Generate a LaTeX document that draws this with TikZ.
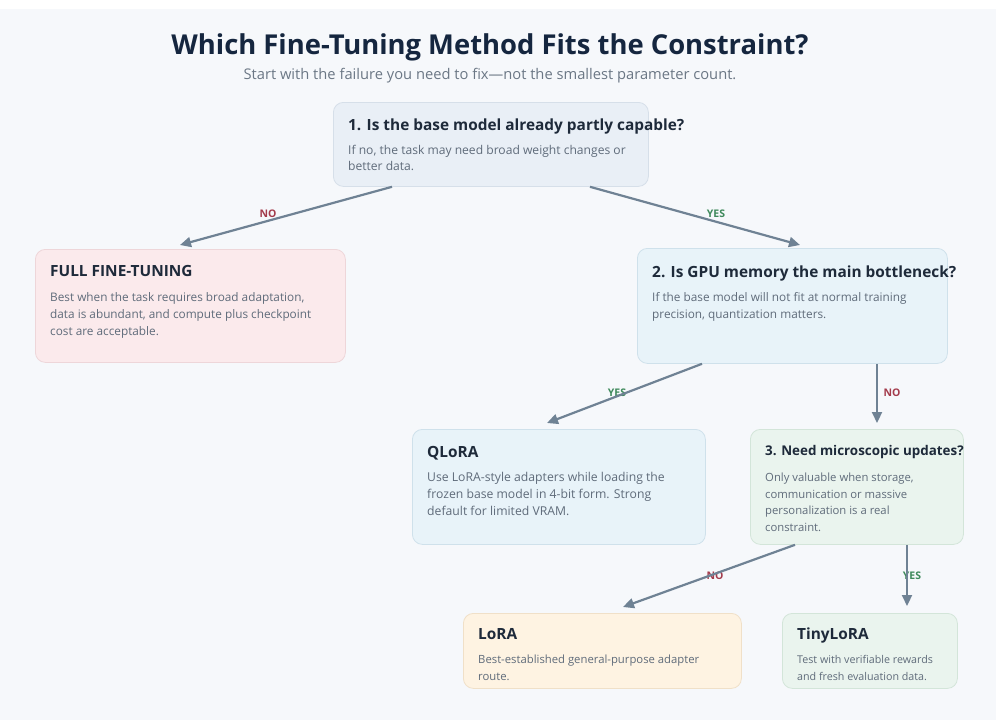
\documentclass[tikz,border=0pt]{standalone}
\usepackage{fontspec}
\setmainfont{Open Sans}
\usetikzlibrary{arrows.meta}
\definecolor{bg}{HTML}{F6F8FB}
\definecolor{ttlc}{HTML}{1E2A3A}
\definecolor{mainc}{HTML}{15263F}
\definecolor{subc}{HTML}{6B7785}
\definecolor{bodyc}{HTML}{5F6B7A}
\definecolor{arrc}{HTML}{6F8294}
\definecolor{noc}{HTML}{A33B4B}
\definecolor{yesc}{HTML}{3F8A5C}
\definecolor{qaf}{HTML}{E9EFF6}\definecolor{qad}{HTML}{D6DFE9}
\definecolor{pkf}{HTML}{FBEAEC}\definecolor{pkd}{HTML}{EED6D9}
\definecolor{blf}{HTML}{E8F3F9}\definecolor{bld}{HTML}{CFE1EB}
\definecolor{gnf}{HTML}{EAF4EE}\definecolor{gnd}{HTML}{D3E5D9}
\definecolor{orf}{HTML}{FEF3E2}\definecolor{ord}{HTML}{F0E0C8}
\begin{document}
\begin{tikzpicture}[x=1pt,y=-1pt,
  box/.style={draw, rounded corners=10pt, line width=0.8pt, anchor=north west, inner sep=0pt},
  ttl/.style={anchor=base west, inner sep=0pt, font=\bfseries\fontsize{15.4}{18}\selectfont, text=ttlc},
  body/.style={anchor=base west, inner sep=0pt, font=\fontsize{11.8}{17}\selectfont, text=bodyc},
  arr/.style={draw=arrc, line width=2.2pt, -{Triangle[length=11pt,width=10pt]}},
  nolbl/.style={inner sep=0pt, font=\bfseries\fontsize{10.5}{12}\selectfont, text=noc},
  yeslbl/.style={inner sep=0pt, font=\bfseries\fontsize{10.5}{12}\selectfont, text=yesc}]
\useasboundingbox (0,0) rectangle (996,720);
\fill[white] (0,0) rectangle (996,720);
\fill[bg] (0,9) rectangle (996,720);

% heading
\node[inner sep=0pt, font=\bfseries\fontsize{27.4}{31}\selectfont, text=mainc] (title) at (490,47) {Which Fine-Tuning Method Fits the Constraint?};
\node[inner sep=0pt, font=\fontsize{14.7}{17}\selectfont, text=subc] (subtitle) at (490,76) {Start with the failure you need to fix—not the smallest parameter count.};

% boxes
\node[box, fill=qaf, draw=qad, minimum width=315pt, minimum height=84pt] (q1) at (333,102) {};
\node[box, fill=pkf, draw=pkd, minimum width=310pt, minimum height=113pt] (full) at (35,249) {};
\node[box, fill=blf, draw=bld, minimum width=310pt, minimum height=115pt] (q2) at (637,248) {};
\node[box, fill=blf, draw=bld, minimum width=293pt, minimum height=115pt] (qlora) at (412,429) {};
\node[box, fill=gnf, draw=gnd, minimum width=213pt, minimum height=115pt] (q3) at (750,429) {};
\node[box, fill=orf, draw=ord, minimum width=278pt, minimum height=75pt] (lora) at (463,613) {};
\node[box, fill=gnf, draw=gnd, minimum width=175pt, minimum height=75pt] (tiny) at (782,613) {};

% texts
\node[ttl] (q1t) at (348,130) {1. Is the base model already partly capable?};
\node[body, font=\fontsize{12.1}{17}\selectfont] (q1b1) at (348,154) {If no, the task may need broad weight changes or};
\node[body, font=\fontsize{12.1}{17}\selectfont] (q1b2) at (348,170) {better data.};

\node[ttl] (fullt) at (50,276) {FULL FINE-TUNING};
\node[body] (fullb1) at (50,301) {Best when the task requires broad adaptation,};
\node[body] (fullb2) at (50,318) {data is abundant, and compute plus checkpoint};
\node[body] (fullb3) at (50,335) {cost are acceptable.};

\node[ttl] (q2t) at (652,277) {2. Is GPU memory the main bottleneck?};
\node[body] (q2b1) at (652,301) {If the base model will not fit at normal training};
\node[body] (q2b2) at (652,318) {precision, quantization matters.};

\node[ttl] (qlorat) at (427,457) {QLoRA};
\node[body, font=\fontsize{12.2}{17}\selectfont] (qlorab1) at (427,481) {Use LoRA-style adapters while loading the};
\node[body, font=\fontsize{12.2}{17}\selectfont] (qlorab2) at (427,498) {frozen base model in 4-bit form. Strong};
\node[body, font=\fontsize{12.2}{17}\selectfont] (qlorab3) at (427,515) {default for limited VRAM.};

\node[ttl, font=\bfseries\fontsize{13.4}{16}\selectfont] (q3t) at (765,455) {3. Need microscopic updates?};
\node[body, font=\fontsize{11.3}{16}\selectfont] (q3b1) at (765,481) {Only valuable when storage,};
\node[body, font=\fontsize{11.3}{16}\selectfont] (q3b2) at (765,498) {communication or massive};
\node[body, font=\fontsize{11.3}{16}\selectfont] (q3b3) at (765,514) {personalization is a real};
\node[body, font=\fontsize{11.3}{16}\selectfont] (q3b4) at (765,531) {constraint.};

\node[ttl] (lorat) at (478,639) {LoRA};
\node[body, font=\fontsize{11.3}{16}\selectfont] (lorab1) at (478,663) {Best-established general-purpose adapter};
\node[body, font=\fontsize{11.3}{16}\selectfont] (lorab2) at (478,680) {route.};

\node[ttl] (tinyt) at (797,639) {TinyLoRA};
\node[body, font=\fontsize{10.7}{16}\selectfont] (tinyb1) at (797,663) {Test with verifiable rewards};
\node[body, font=\fontsize{10.7}{16}\selectfont] (tinyb2) at (797,680) {and fresh evaluation data.};

% labels
\node[nolbl] (l1) at (268,214) {NO};
\node[yeslbl] (l2) at (716,214) {YES};
\node[yeslbl] (l3) at (617,393) {YES};
\node[nolbl] (l4) at (892,393) {NO};
\node[nolbl] (l5) at (715,576) {NO};
\node[yeslbl] (l6) at (912,576) {YES};

% connectors
\draw[arr] ([xshift=59pt]q1.south west) -- ([xshift=145pt,yshift=4pt]full.north west);
\draw[arr] ([xshift=257pt]q1.south west) -- ([xshift=163pt,yshift=3pt]q2.north west);
\draw[arr] ([xshift=65pt]q2.south west) -- ([xshift=135pt,yshift=6pt]qlora.north west);
\draw[arr] ([xshift=240pt]q2.south west) -- ([xshift=127pt,yshift=6pt]q3.north west);
\draw[arr] ([xshift=45pt]q3.south west) -- ([xshift=160pt,yshift=6pt]lora.north west);
\draw[arr] ([xshift=157pt]q3.south west) -- ([xshift=125pt,yshift=7pt]tiny.north west);
\end{tikzpicture}
\end{document}
